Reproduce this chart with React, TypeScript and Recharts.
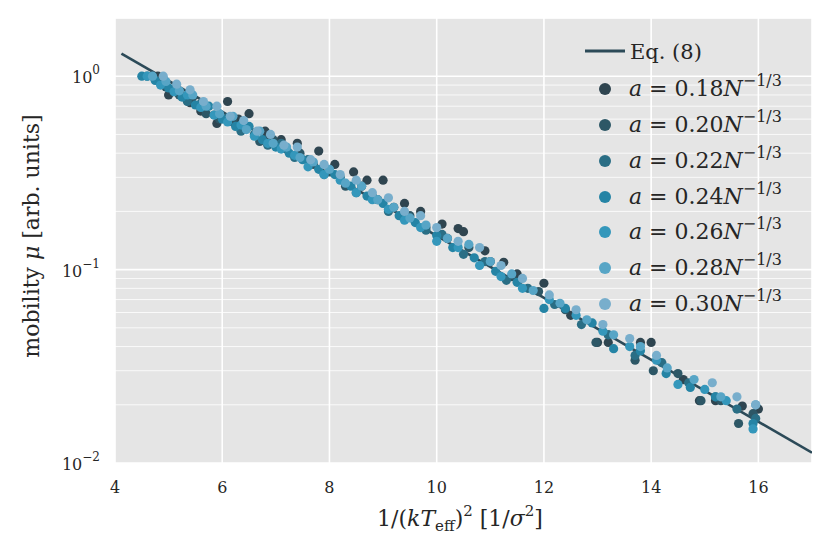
import React from 'react';
import { CartesianGrid, Customized, Scatter, ScatterChart, XAxis, YAxis } from 'recharts';

// axes
const xTicks = [4, 6, 8, 10, 12, 14, 16];
const yTicks = [0.01, 0.1, 1];
const yMinorTicks = [
  0.02, 0.03, 0.04, 0.05, 0.06, 0.07, 0.08, 0.09, 0.2, 0.3, 0.4, 0.5, 0.6, 0.7, 0.8, 0.9, 2,
];
const yExponents: Record<string, string> = { '0.01': '−2', '0.1': '−1', '1': '0' };

// Eq. (8) fit line, end points
const eqLine = [
  { x: 4.12, mu: 1.31 },
  { x: 17, mu: 0.0113 },
];

const labels = ['0.18', '0.20', '0.22', '0.24', '0.26', '0.28', '0.30'];
const colors = ['#2f4550', '#2d5766', '#2a6e85', '#2584a5', '#3497bb', '#57a5c6', '#78aecc'];

const a018: [number, number][] = [
  [4.8, 1.0], [5.0, 0.8], [5.2, 0.82], [5.4, 0.73], [5.6, 0.66], [5.9, 0.57], [6.1, 0.74],
  [6.3, 0.6], [6.5, 0.64], [6.8, 0.52], [7.1, 0.47], [7.4, 0.45], [7.8, 0.41], [8.1, 0.35],
  [8.45, 0.32], [8.7, 0.29], [9.0, 0.29], [9.4, 0.22], [9.7, 0.2], [10.1, 0.172], [10.4, 0.163],
  [10.5, 0.157], [10.9, 0.125], [11.25, 0.109], [11.5, 0.095], [12.0, 0.085], [12.5, 0.058],
  [13.0, 0.042], [13.2, 0.042], [13.8, 0.042], [14.0, 0.042], [14.6, 0.027], [14.9, 0.021],
  [15.2, 0.021], [15.7, 0.0197], [16.0, 0.019],
];
const a020: [number, number][] = [
  [4.7, 1.0], [4.95, 0.88], [5.2, 0.8], [5.45, 0.78], [5.7, 0.64], [5.95, 0.6], [6.2, 0.58],
  [6.45, 0.55], [6.7, 0.46], [6.95, 0.47], [7.2, 0.42], [7.45, 0.4], [7.7, 0.35], [8.0, 0.32],
  [8.3, 0.27], [8.6, 0.27], [8.9, 0.23], [9.2, 0.21], [9.5, 0.19], [9.8, 0.165], [10.2, 0.145],
  [10.6, 0.13], [11.0, 0.11], [11.4, 0.092], [11.9, 0.077], [12.4, 0.062], [12.97, 0.042],
  [13.2, 0.046], [13.7, 0.034], [14.04, 0.03], [14.5, 0.029], [14.93, 0.021], [15.3, 0.021],
  [15.63, 0.016], [15.9, 0.018],
];
const a022: [number, number][] = [
  [4.6, 1.0], [4.85, 0.92], [5.1, 0.86], [5.35, 0.74], [5.6, 0.72], [5.85, 0.63], [6.1, 0.61],
  [6.35, 0.52], [6.6, 0.5], [6.85, 0.44], [7.1, 0.45], [7.35, 0.38], [7.6, 0.37], [7.9, 0.31],
  [8.2, 0.3], [8.5, 0.25], [8.8, 0.24], [9.1, 0.2], [9.4, 0.19], [9.8, 0.16], [10.1, 0.152],
  [10.5, 0.12], [10.9, 0.11], [11.3, 0.088], [11.7, 0.08], [12.2, 0.066], [12.7, 0.052],
  [13.2, 0.046], [13.7, 0.036], [14.2, 0.033], [14.7, 0.026], [15.2, 0.022], [15.6, 0.019],
  [15.95, 0.017],
];
const a024: [number, number][] = [
  [4.5, 1.0], [4.75, 0.95], [5.0, 0.87], [5.25, 0.78], [5.5, 0.71], [5.75, 0.7], [6.0, 0.6],
  [6.25, 0.55], [6.5, 0.55], [6.75, 0.47], [7.0, 0.43], [7.25, 0.4], [7.5, 0.37], [7.8, 0.33],
  [8.1, 0.31], [8.4, 0.27], [8.7, 0.24], [9.0, 0.22], [9.3, 0.19], [9.6, 0.175], [10.0, 0.15],
  [10.3, 0.13], [10.7, 0.115], [11.1, 0.098], [11.5, 0.086], [12.0, 0.063], [12.4, 0.063],
  [12.9, 0.053], [13.3, 0.039], [13.8, 0.038], [14.28, 0.029], [14.73, 0.0246], [15.2, 0.022],
  [15.9, 0.016],
];
const a026: [number, number][] = [
  [4.6, 1.0], [4.85, 0.9], [5.1, 0.83], [5.35, 0.8], [5.6, 0.69], [5.85, 0.63], [6.1, 0.58],
  [6.35, 0.56], [6.6, 0.49], [6.85, 0.45], [7.1, 0.42], [7.35, 0.39], [7.6, 0.34], [7.9, 0.31],
  [8.2, 0.29], [8.5, 0.25], [8.8, 0.23], [9.1, 0.205], [9.4, 0.18], [9.7, 0.165], [10.0, 0.14],
  [10.4, 0.13], [10.8, 0.105], [11.2, 0.092], [11.6, 0.08], [12.1, 0.07], [12.6, 0.058],
  [13.1, 0.048], [13.6, 0.04], [14.1, 0.034], [14.5, 0.0255], [15.0, 0.024], [15.4, 0.021],
  [15.9, 0.015],
];
const a028: [number, number][] = [
  [4.7, 1.0], [4.95, 0.94], [5.2, 0.84], [5.45, 0.8], [5.7, 0.7], [5.95, 0.64], [6.2, 0.62],
  [6.45, 0.53], [6.7, 0.52], [6.95, 0.45], [7.2, 0.43], [7.45, 0.38], [7.7, 0.36], [8.0, 0.33],
  [8.3, 0.28], [8.6, 0.27], [8.9, 0.23], [9.2, 0.21], [9.5, 0.185], [9.8, 0.17], [10.2, 0.145],
  [10.6, 0.135], [11.0, 0.11], [11.4, 0.095], [11.8, 0.078], [12.3, 0.067], [12.8, 0.055],
  [13.3, 0.046], [13.8, 0.04], [14.3, 0.031], [14.8, 0.027], [15.3, 0.022], [15.95, 0.02],
];
const a030: [number, number][] = [
  [4.9, 1.0], [5.15, 0.91], [5.4, 0.85], [5.65, 0.74], [5.9, 0.7], [6.15, 0.62], [6.4, 0.59],
  [6.65, 0.52], [6.9, 0.5], [7.15, 0.44], [7.4, 0.43], [7.65, 0.37], [7.9, 0.35], [8.2, 0.31],
  [8.5, 0.29], [8.8, 0.25], [9.1, 0.235], [9.4, 0.2], [9.7, 0.19], [10.0, 0.165], [10.4, 0.14],
  [10.8, 0.13], [11.2, 0.105], [11.6, 0.09], [12.1, 0.074], [12.6, 0.062], [13.1, 0.052],
  [13.6, 0.044], [14.1, 0.036], [15.14, 0.026], [15.6, 0.022], [15.95, 0.02],
];

const seriesData = [a018, a020, a022, a024, a026, a028, a030];

const FONT = '"DejaVu Serif", serif';
const TEXT = '#262626';

const XTick = (props: any) => (
  <text x={props.x} y={493} textAnchor="middle" fontFamily={FONT} fontSize={16} fill={TEXT}>
    {props.payload.value}
  </text>
);

const YTick = (props: any) => (
  <text x={100} y={props.y + 7} textAnchor="end" fontFamily={FONT} fontSize={16} fill={TEXT}>
    10
    <tspan dy={-9} fontSize={12}>
      {yExponents[String(props.payload.value)]}
    </tspan>
  </text>
);

const Overlay = () => {
  const rowY = [89, 125, 161, 197, 232, 268, 304];
  return (
    <g fontFamily={FONT} fill={TEXT}>
      {/* axis labels */}
      <text x={460} y={526} textAnchor="middle" fontSize={22}>
        1/(<tspan fontStyle="italic">kT</tspan>
        <tspan dy={5} fontSize={15}>eff</tspan>
        <tspan dy={-5}>)</tspan>
        <tspan dy={-10} fontSize={15}>2</tspan>
        <tspan dy={10}>{' [1/'}</tspan>
        <tspan fontStyle="italic">σ</tspan>
        <tspan dy={-10} fontSize={15}>2</tspan>
        <tspan dy={10}>]</tspan>
      </text>
      <text x={39} y={236} textAnchor="middle" fontSize={22} transform="rotate(-90 39 236)">
        mobility <tspan fontStyle="italic">μ</tspan> [arb. units]
      </text>

      {/* legend */}
      <line x1={585} x2={625} y1={51} y2={51} stroke="#2c4a58" strokeWidth={3} />
      <text x={630} y={59} fontSize={21}>
        Eq. (8)
      </text>
      {labels.map((lab, i) => (
        <g key={lab}>
          <circle cx={605} cy={rowY[i]} r={6} fill={colors[i]} />
          <text x={629} y={rowY[i] + 7} fontSize={22}>
            <tspan fontStyle="italic">a</tspan>
            {` = ${lab}`}
            <tspan fontStyle="italic">N</tspan>
            <tspan dy={-10} fontSize={16}>
              −1/3
            </tspan>
          </text>
        </g>
      ))}
    </g>
  );
};

export default function App() {
  return (
    <div style={{ position: 'absolute', left: 0, top: 0, width: 830, height: 554, background: '#fff' }}>
      <ScatterChart width={830} height={554} margin={{ top: 18, right: 18, bottom: 0, left: 0 }}>
        <CartesianGrid fill="#e5e5e5" stroke="#ffffff" strokeWidth={1.6} />
        <CartesianGrid
          vertical={false}
          stroke="#ffffff"
          strokeWidth={0.8}
          horizontalValues={yMinorTicks}
        />
        <XAxis
          type="number"
          dataKey="x"
          domain={[4, 17]}
          ticks={xTicks}
          interval={0}
          axisLine={false}
          tickLine={false}
          height={91}
          tick={XTick}
          allowDataOverflow
        />
        <YAxis
          type="number"
          dataKey="mu"
          scale="log"
          domain={[0.01, 2]}
          ticks={yTicks}
          interval={0}
          axisLine={false}
          tickLine={false}
          width={115}
          tick={YTick}
          allowDataOverflow
        />
        <Scatter
          data={eqLine}
          line={{ stroke: '#2c4a58', strokeWidth: 2.6 }}
          shape={() => <g />}
          isAnimationActive={false}
        />
        {seriesData.map((arr, i) => (
          <Scatter
            key={labels[i]}
            data={arr.map(([x, mu]) => ({ x, mu }))}
            fill={colors[i]}
            shape={(p: any) => <circle cx={p.cx} cy={p.cy} r={4.6} fill={colors[i]} />}
            isAnimationActive={false}
          />
        ))}
        <Customized component={Overlay} />
      </ScatterChart>
    </div>
  );
}
